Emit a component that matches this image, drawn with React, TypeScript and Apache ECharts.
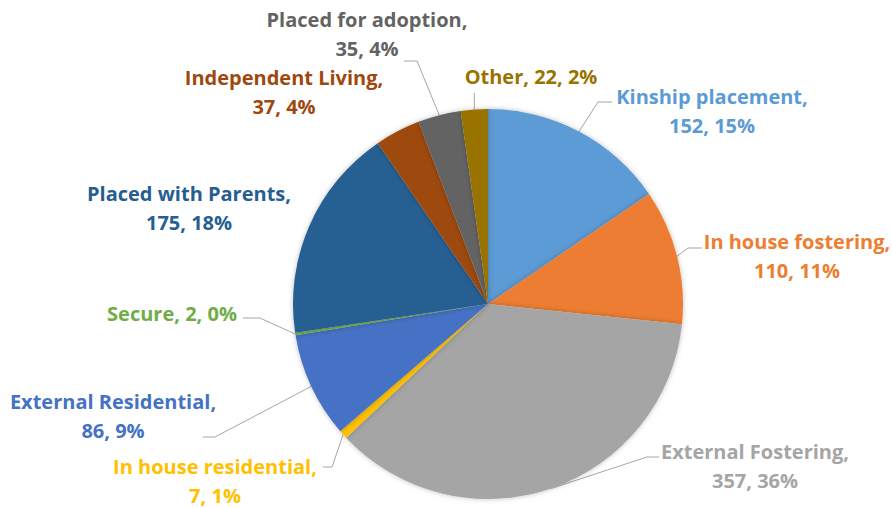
import React, { useEffect, useRef } from "react";
import * as echarts from "echarts";

const categories = [
  "Kinship placement",
  "In house fostering",
  "External Fostering",
  "In house residential",
  "External Residential",
  "Secure",
  "Placed with Parents",
  "Independent Living",
  "Placed for adoption",
  "Other",
];
const values = [152, 110, 357, 7, 86, 2, 175, 37, 35, 22];
const colors = [
  "#5B9BD5",
  "#ED7D31",
  "#A5A5A5",
  "#FFC000",
  "#4472C4",
  "#70AD47",
  "#255E91",
  "#9E480E",
  "#636363",
  "#997300",
];
const singleLine = ["Secure", "Other"];
// label centre positions (layout only)
const labelPos: [number, number][] = [
  [712, 111],
  [797, 256],
  [755, 466],
  [215, 481],
  [113, 416],
  [172, 313],
  [189, 208],
  [284, 92],
  [367, 34],
  [531, 76],
];
// leader line: label-side end, elbow (layout only); null = no leader
const leaderEnd: ([number, number] | null)[] = [
  [612, 102],
  [702, 248],
  [659, 457],
  [323, 467],
  [203, 437],
  [243, 318],
  null,
  null,
  [404, 61],
  [474, 93],
];
const leaderElbow: ([number, number] | null)[] = [
  [598, 102],
  [688, 248],
  [647, 457],
  [332, 467],
  [215, 437],
  [260, 318],
  null,
  null,
  [417, 61],
  null,
];

export default function App() {
  const ref = useRef<HTMLDivElement>(null);
  useEffect(() => {
    document.body.style.margin = "0";
    const chart = echarts.init(ref.current!, null, { renderer: "svg" });
    const total = values.reduce((a, b) => a + b, 0);
    const cx = 488;
    const cy = 304;
    const R = 195;
    const midAnchor = (i: number): number[] => {
      let before = 0;
      for (let k = 0; k < i; k++) before += values[k];
      const ang = ((before + values[i] / 2) / total) * Math.PI * 2;
      return [cx + R * Math.sin(ang), cy - R * Math.cos(ang)];
    };
    chart.setOption({
      animation: false,
      series: [
        {
          type: "pie",
          center: [cx, cy],
          radius: R,
          startAngle: 90,
          clockwise: true,
          data: categories.map((c, i) => ({
            name: c,
            value: values[i],
            itemStyle: { color: colors[i] },
            label: { color: colors[i] },
            labelLine: { show: leaderEnd[i] !== null },
          })),
          itemStyle: {
            shadowBlur: 5,
            shadowColor: "rgba(0,0,0,0.25)",
          },
          label: {
            show: true,
            position: "outside",
            overflow: "none",
            fontFamily: "Open Sans",
            fontWeight: "bold",
            fontSize: 20,
            lineHeight: 29,
            align: "center",
            formatter: (p: any) => {
              const pct = Math.round((p.value / total) * 100);
              const sep = singleLine.includes(p.name) ? " " : "\n";
              return `${p.name},${sep}${p.value}, ${pct}%`;
            },
          },
          labelLine: {
            show: true,
            lineStyle: { color: "#A6A6A6", width: 1 },
          },
          labelLayout: (params: any) => {
            const i = params.dataIndex;
            const pos = labelPos[i];
            const out: any = {
              x: pos[0],
              y: pos[1],
              align: "center",
              verticalAlign: "middle",
            };
            const end = leaderEnd[i];
            if (end) {
              const anchor =
                params.labelLinePoints && params.labelLinePoints[0]
                  ? params.labelLinePoints[0]
                  : midAnchor(i);
              const elbow = leaderElbow[i];
              out.labelLinePoints = elbow
                ? [anchor, elbow, end]
                : [anchor, [anchor[0], end[1]], end];
            }
            return out;
          },
        },
      ],
    });
    return () => chart.dispose();
  }, []);
  return <div ref={ref} style={{ width: 892, height: 508 }} />;
}
